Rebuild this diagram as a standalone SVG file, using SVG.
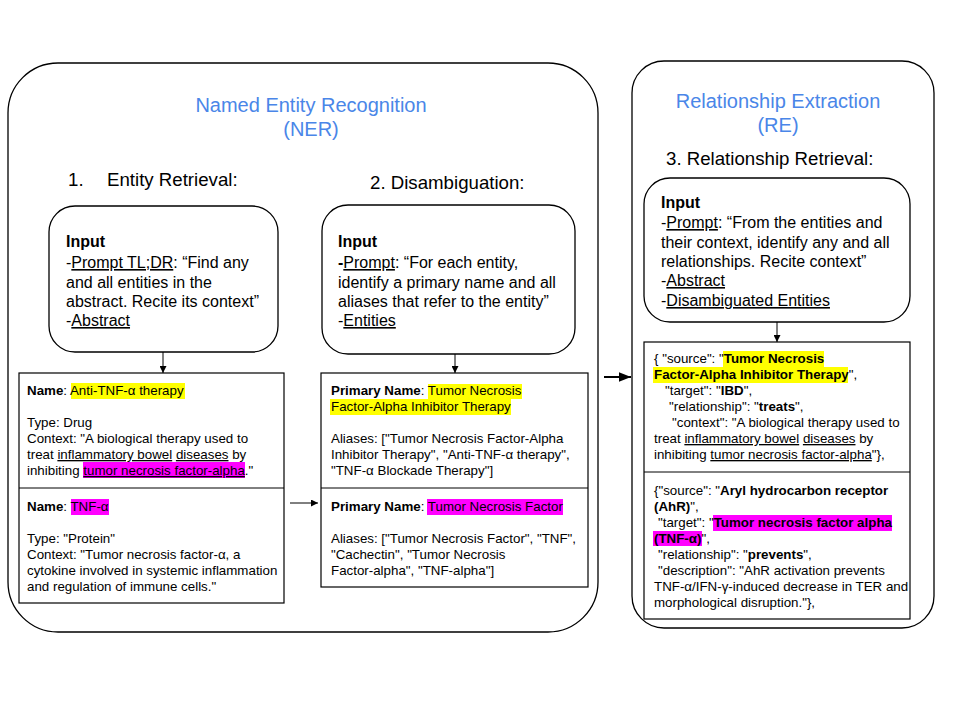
<svg xmlns="http://www.w3.org/2000/svg" width="960" height="720" viewBox="0 0 960 720">
<defs>
<style>
text{font-family:"Liberation Sans",Arial,sans-serif;fill:#000}
.frame{fill:none;stroke:#000;stroke-width:1.3}
.box{fill:#fff;stroke:#000;stroke-width:1.3}
.card{fill:#fff;stroke:#000;stroke-width:1.2}
.title{font-size:20px;fill:#4a86e8;text-anchor:middle}
.step{font-size:18.67px}
.inp{font-size:16px}
.ct{font-size:13.33px}
.b{font-weight:bold}
.u{text-decoration:underline}
.hy{fill:#ffff00}
.hm{fill:#ff00ff}
.conn{stroke:#000;stroke-width:1;fill:none}
</style>
<marker id="ah" viewBox="0 0 10 10" refX="10" refY="5" markerWidth="7" markerHeight="7" markerUnits="userSpaceOnUse" orient="auto">
<path d="M0,0 L10,5 L0,10 z" fill="#000"/>
</marker>
<marker id="ahb" viewBox="0 0 10 10" refX="10" refY="5" markerWidth="12" markerHeight="12" markerUnits="userSpaceOnUse" orient="auto">
<path d="M0,1 L10,5 L0,9 z" fill="#000"/>
</marker>
</defs>
<rect width="960" height="720" fill="#fff"/>

<g id="ner-frame">
<rect class="frame" x="8" y="63" width="590" height="569" rx="50" ry="50"/>
<text class="title" x="311" y="112">Named Entity Recognition</text>
<text class="title" x="311" y="136">(NER)</text>
<text class="step" x="68" y="186">1.</text>
<text class="step" x="107" y="186">Entity Retrieval:</text>
<text class="step" x="370" y="189">2. Disambiguation:</text>
</g>

<g id="re-frame">
<rect class="frame" x="632" y="61" width="302" height="567" rx="32" ry="32"/>
<text class="title" x="778" y="108">Relationship Extraction</text>
<text class="title" x="778" y="132">(RE)</text>
<text class="step" x="666" y="165">3. Relationship Retrieval:</text>
</g>

<g id="input-1">
<rect class="box" x="49" y="206" width="229" height="146" rx="26" ry="26"/>
<text class="inp" x="66" y="247"><tspan class="b">Input</tspan></text>
<text class="inp" x="66" y="268">-<tspan class="u">Prompt TL;DR</tspan>: “Find any</text>
<text class="inp" x="66" y="288">and all entities in the</text>
<text class="inp" x="66" y="307">abstract. Recite its context”</text>
<text class="inp" x="66" y="326">-<tspan class="u">Abstract</tspan></text>
</g>

<g id="input-2">
<rect class="box" x="322" y="205" width="253" height="149" rx="26" ry="26"/>
<text class="inp" x="338" y="247"><tspan class="b">Input</tspan></text>
<text class="inp" x="338" y="268"><tspan class="b">-</tspan><tspan class="u">Prompt</tspan>: “For each entity,</text>
<text class="inp" x="338" y="288">identify a primary name and all</text>
<text class="inp" x="338" y="307">aliases that refer to the entity”</text>
<text class="inp" x="338" y="326">-<tspan class="u">Entities</tspan></text>
</g>

<g id="input-3">
<rect class="box" x="644" y="178" width="266" height="144" rx="26" ry="26"/>
<text class="inp" x="661" y="208"><tspan class="b">Input</tspan></text>
<text class="inp" x="661" y="228">-<tspan class="u">Prompt</tspan>: “From the entities and</text>
<text class="inp" x="661" y="248">their context, identify any and all</text>
<text class="inp" x="661" y="267">relationships. Recite context”</text>
<text class="inp" x="661" y="286">-<tspan class="u">Abstract</tspan></text>
<text class="inp" x="661" y="306">-<tspan class="u">Disambiguated Entities</tspan></text>
</g>

<g id="entities-card">
<rect class="card" x="19" y="373" width="265" height="230"/>
<line class="conn" x1="19" y1="488" x2="284" y2="488"/>
<rect class="hy" x="71" y="383" width="114" height="16"/>
<rect class="hm" x="83" y="462" width="162" height="16"/>
<rect class="hm" x="71" y="499" width="38" height="16"/>
<text class="ct" x="27" y="395"><tspan class="b">Name</tspan>: Anti-TNF-α therapy</text>
<text class="ct" x="27" y="427">Type: Drug</text>
<text class="ct" x="27" y="443">Context: "A biological therapy used to</text>
<text class="ct" x="27" y="459">treat <tspan class="u">inflammatory bowel</tspan> <tspan class="u">diseases</tspan> by</text>
<text class="ct" x="27" y="475">inhibiting <tspan class="u">tumor necrosis factor-alpha</tspan>."</text>
<text class="ct" x="27" y="511"><tspan class="b">Name</tspan>: TNF-α</text>
<text class="ct" x="27" y="543">Type: "Protein"</text>
<text class="ct" x="27" y="559">Context: "Tumor necrosis factor-α, a</text>
<text class="ct" x="27" y="575">cytokine involved in systemic inflammation</text>
<text class="ct" x="27" y="591">and regulation of immune cells."</text>
</g>

<g id="disambiguation-card">
<rect class="card" x="321" y="373" width="267" height="214"/>
<line class="conn" x1="321" y1="488" x2="588" y2="488"/>
<rect class="hy" x="428" y="384" width="94" height="15"/>
<rect class="hy" x="330" y="399" width="181" height="16"/>
<rect class="hm" x="427" y="499" width="136" height="16"/>
<text class="ct" x="331" y="395"><tspan class="b">Primary Name</tspan>: Tumor Necrosis</text>
<text class="ct" x="331" y="411">Factor-Alpha Inhibitor Therapy</text>
<text class="ct" x="331" y="443">Aliases: ["Tumor Necrosis Factor-Alpha</text>
<text class="ct" x="331" y="459">Inhibitor Therapy", "Anti-TNF-α therapy",</text>
<text class="ct" x="331" y="475">"TNF-α Blockade Therapy"]</text>
<text class="ct" x="331" y="511"><tspan class="b">Primary Name</tspan>: Tumor Necrosis Factor</text>
<text class="ct" x="331" y="543">Aliases: ["Tumor Necrosis Factor", "TNF",</text>
<text class="ct" x="331" y="559">"Cachectin", "Tumor Necrosis</text>
<text class="ct" x="331" y="575">Factor-alpha", "TNF-alpha"]</text>
</g>

<g id="relationship-card">
<rect class="card" x="644" y="342" width="266" height="277"/>
<line class="conn" x1="644" y1="472" x2="910" y2="472"/>
<rect class="hy" x="723" y="351" width="101" height="16"/>
<rect class="hy" x="653" y="367" width="195" height="16"/>
<rect class="hm" x="713" y="515" width="179" height="16"/>
<rect class="hm" x="653" y="531" width="49" height="15"/>
<text class="ct" x="654" y="363">{ "source": "<tspan class="b">Tumor Necrosis</tspan></text>
<text class="ct" x="654" y="379"><tspan class="b">Factor-Alpha Inhibitor Therapy</tspan>",</text>
<text class="ct" x="665" y="395">"target": "<tspan class="b">IBD</tspan>",</text>
<text class="ct" x="669" y="411">"relationship": "<tspan class="b">treats</tspan>",</text>
<text class="ct" x="672" y="427">"context": "A biological therapy used to</text>
<text class="ct" x="654" y="443">treat <tspan class="u">inflammatory bowel</tspan> <tspan class="u">diseases</tspan> by</text>
<text class="ct" x="654" y="459">inhibiting <tspan class="u">tumor necrosis factor-alpha</tspan>"},</text>
<text class="ct" x="654" y="495">{"source": "<tspan class="b">Aryl hydrocarbon receptor</tspan></text>
<text class="ct" x="654" y="511"><tspan class="b">(AhR)</tspan>",</text>
<text class="ct" x="658" y="527">"target": "<tspan class="b">Tumor necrosis factor alpha</tspan></text>
<text class="ct" x="654" y="543"><tspan class="b">(TNF-α)</tspan>",</text>
<text class="ct" x="658" y="559">"relationship": "<tspan class="b">prevents</tspan>",</text>
<text class="ct" x="658" y="575">"description": "AhR activation prevents</text>
<text class="ct" x="654" y="591">TNF-α/IFN-γ-induced decrease in TER and</text>
<text class="ct" x="654" y="607">morphological disruption."},</text>
</g>

<g id="connectors">
<line class="conn" x1="163" y1="352" x2="163" y2="373" marker-end="url(#ah)"/>
<line class="conn" x1="455" y1="354" x2="455" y2="373" marker-end="url(#ah)"/>
<line class="conn" x1="777" y1="322" x2="777" y2="342" marker-end="url(#ah)"/>
<line class="conn" x1="290" y1="503" x2="318" y2="503" marker-end="url(#ah)"/>
<line class="conn" style="stroke-width:2" x1="604" y1="377" x2="631" y2="377" marker-end="url(#ahb)"/>
</g>
</svg>
